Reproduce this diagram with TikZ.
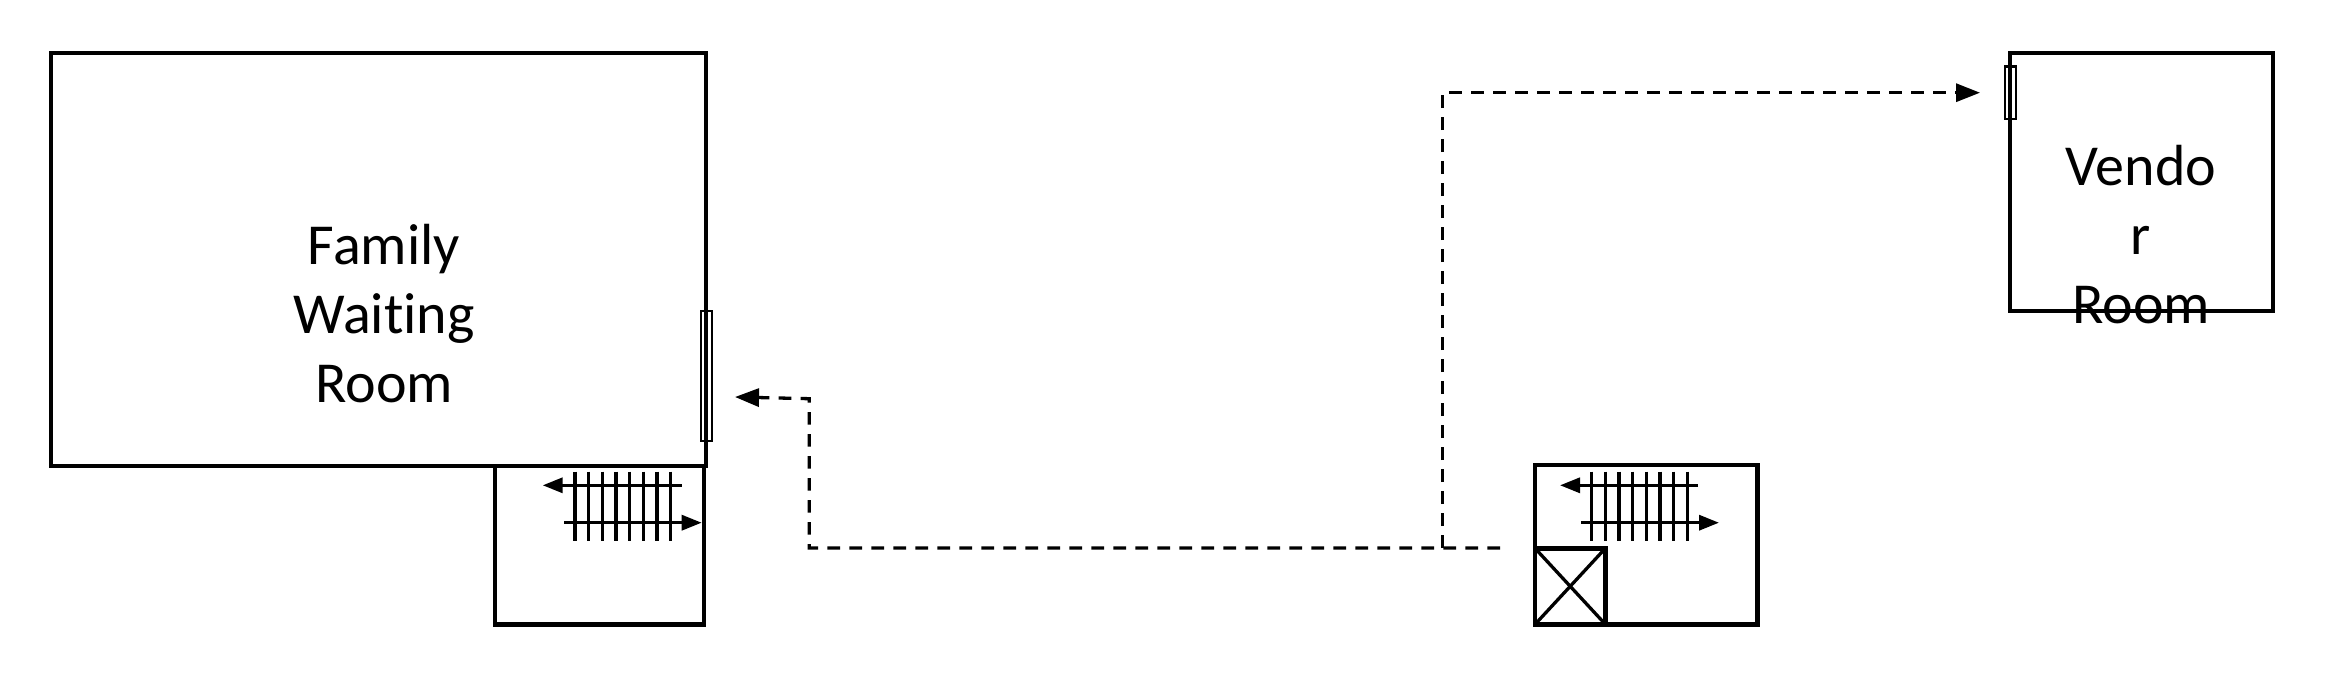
\documentclass[tikz,border=0pt]{standalone}
\usepackage{fontspec}
\setmainfont[RawFeature=-liga]{Carlito}
\usetikzlibrary{arrows.meta}
\tikzset{
  x=1pt,y=-1pt,
  roombox/.style={draw=black,line width=3.7pt,inner sep=0pt,outer sep=0pt,align=center},
  stairbox/.style={draw=black,line width=4.4pt,inner sep=0pt,outer sep=0pt},
  doorbox/.style={draw=black,line width=2.4pt,inner sep=0pt,outer sep=0pt},
  tread/.style={draw=black,line width=3.3pt},
  stairarrow/.style={draw=black,line width=3.3pt,-{Triangle[length=20pt,width=15pt]}},
  route/.style={draw=black,line width=3.3pt,dash pattern=on 12.7pt off 9.3pt},
  routearrow/.style={route,-{Triangle[length=24pt,width=18pt]}},
  labeltext/.style={inner sep=0pt,align=center,font=\fontsize{58}{69}\selectfont}
}
\newcommand{\treads}[3]{%
  \foreach \i in {0,...,7}{\draw[tread] ({#1+\i*13.67},{#2}) -- ({#1+\i*13.67},{#3});}}
\begin{document}
\begin{tikzpicture}
\useasboundingbox[fill=white] (0,0) rectangle (2341,677);
% rooms
\node[roombox,minimum width=655pt,minimum height=413pt] (family) at (378.5,259.5) {};
\node[labeltext] (familytext) at (384,314) {Family\\Waiting\\Room};
\node[roombox,minimum width=262.4pt,minimum height=258pt] (vendor) at (2141.5,181.7) {};
\node[labeltext] (vendortext) at (2141,235) {Vendo\\r\\Room};
% doors
\node[doorbox,minimum width=11pt,minimum height=130pt] (doorfamily) at (706.3,376) {};
\node[doorbox,minimum width=11pt,minimum height=52.5pt] (doorvendor) at (2010.6,92.6) {};
% stairs, left
\node[stairbox,minimum width=209pt,minimum height=158.7pt] (stairL) at (599.5,545.3) {};
\treads{575}{471.7}{541}
\coordinate (lt1) at (681.7,485.3);
\coordinate (lt2) at (542.7,485.3);
\coordinate (lb1) at (564.3,522.7);
\coordinate (lb2) at (701.7,522.7);
\draw[stairarrow] (lt1) -- (lt2);
\draw[stairarrow] (lb1) -- (lb2);
% stairs, right
\node[stairbox,minimum width=222.7pt,minimum height=159.3pt] (stairR) at (1646.3,544.7) {};
\treads{1591.7}{471.7}{541}
\coordinate (rt1) at (1698,485.3);
\coordinate (rt2) at (1560,485.3);
\coordinate (rb1) at (1581,522.7);
\coordinate (rb2) at (1719,522.7);
\draw[stairarrow] (rt1) -- (rt2);
\draw[stairarrow] (rb1) -- (rb2);
% elevator
\node[stairbox,minimum width=70.3pt,minimum height=76pt] (elev) at (1570.2,586.3) {};
\draw[line width=3.3pt] (elev.north west) -- (elev.south east);
\draw[line width=3.3pt] (elev.north east) -- (elev.south west);
% routes
\coordinate (start) at (1500,548);
\coordinate (branch) at (1442.7,548);
\coordinate (c1) at (809.3,548);
\coordinate (c2) at (809.3,398.7);
\coordinate (tipfamily) at (735,397);
\coordinate (c3) at (1442.7,92.7);
\coordinate (tipvendor) at (1980,92.7);
\draw[routearrow] (start) -- (c1) -- (c2) -- (tipfamily);
\draw[routearrow] (branch) -- (c3) -- (tipvendor);
\end{tikzpicture}
\end{document}
